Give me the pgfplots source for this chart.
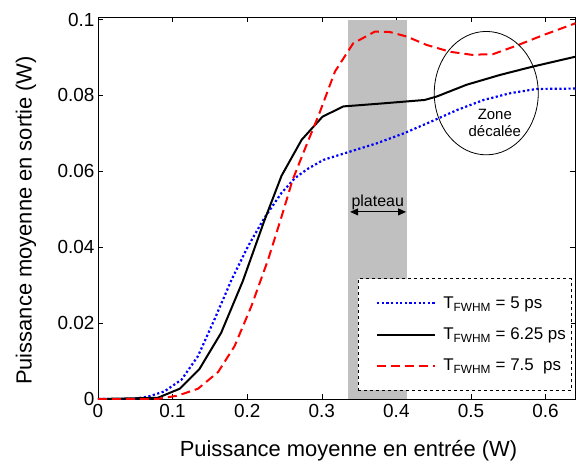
\documentclass[border=0pt]{standalone}
\usepackage{fontspec}
\setmainfont{Liberation Sans}
\usepackage{pgfplots}
\pgfplotsset{compat=1.18}
\usetikzlibrary{arrows.meta}
\definecolor{bandgray}{RGB}{192,192,192}
\begin{document}
\begin{tikzpicture}
\begin{axis}[
  scale only axis,
  width=477.4bp, height=381.5bp,
  xmin=0, xmax=0.64, ymin=0, ymax=0.10053,
  xtick={0,0.1,...,0.6}, ytick={0,0.02,...,0.1},
  xticklabels={0,0.1,0.2,0.3,0.4,0.5,0.6},
  yticklabels={0,0.02,0.04,0.06,0.08,0.1},
  tick align=inside,
  major tick length=5bp,
  tick style={black, line width=0.5bp},
  axis line style={black, line width=0.8bp},
  ticklabel style={font=\fontsize{19}{22}\selectfont},
  xticklabel style={yshift=-2bp},
  /pgf/number format/assume math mode=true,
  xlabel={Puissance moyenne en entrée (W)},
  ylabel={Puissance moyenne en sortie (W)},
  label style={font=\fontsize{22}{26}\selectfont},
  xlabel style={at={(axis description cs:0.5247,-0.1515)}, anchor=base},
  ylabel style={at={(axis description cs:-0.1389,0.468)}, anchor=base, rotate=0},
  legend style={at={(axis description cs:0.5446,0.3159)}, anchor=north west,
    draw=black, dashed, line width=0.6bp, fill=white,
    font=\fontsize{17}{20}\selectfont,
    inner xsep=3bp, inner ysep=16bp, row sep=14bp, column sep=0bp},
  legend cell align=left,
  legend image code/.code={\path[draw=none,fill=none] (0bp,0bp) -- (80bp,0bp); \draw[#1] (16bp,0bp) -- (74bp,0bp);},
  clip=true,
]
\fill[bandgray] (axis cs:0.335,0) rectangle (axis cs:0.414,0.1);

\addplot[blue, line width=2.2bp, solid, dash pattern=on 2.2bp off 2.4bp] coordinates {
(0,0) (0.045,0) (0.067,0.0006) (0.089,0.002) (0.112,0.0051) (0.134,0.0113)
(0.156,0.0209) (0.179,0.0314) (0.201,0.0402) (0.223,0.0477) (0.246,0.0543)
(0.264,0.0582) (0.28,0.0605) (0.302,0.0630) (0.338,0.0652) (0.374,0.0674)
(0.41,0.0700) (0.4465,0.0731) (0.482,0.0762) (0.517,0.0788) (0.553,0.0806)
(0.588,0.0817) (0.64,0.0818)
};
\addlegendentry{T\textsubscript{FWHM} = 5 ps}

\addplot[black, solid, line width=2bp] coordinates {
(0,0) (0.08,0.0003) (0.1095,0.0027) (0.136,0.0079) (0.165,0.0174) (0.194,0.031)
(0.223,0.047) (0.246,0.0588) (0.273,0.0683) (0.301,0.0744) (0.329,0.0771)
(0.382,0.0779) (0.438,0.0788) (0.454,0.0797) (0.494,0.0828) (0.539,0.0854)
(0.583,0.0876) (0.64,0.0902)
};
\addlegendentry{T\textsubscript{FWHM} = 6.25 ps}

\addplot[red, solid, line width=2bp, dash pattern=on 9bp off 5bp] coordinates {
(0,0) (0.08,0) (0.107,0.0009) (0.134,0.0027) (0.161,0.0071) (0.183,0.0139)
(0.2055,0.0244) (0.228,0.0367) (0.246,0.048) (0.261,0.0578) (0.277,0.0657)
(0.2976,0.0757) (0.3177,0.0863) (0.342,0.0937) (0.371,0.0968) (0.3915,0.0967)
(0.414,0.0955) (0.4406,0.0933) (0.472,0.0915) (0.501,0.0907) (0.530,0.0909)
(0.561,0.0931) (0.597,0.0959) (0.64,0.0990)
};
\addlegendentry{T\textsubscript{FWHM} = 7.5~ ps}

\draw[black, line width=0.8bp] (axis cs:0.5205,0.0806) ellipse [x radius=52bp, y radius=61.7bp];
\node[font=\fontsize{15}{17}\selectfont, align=center] at (axis cs:0.532,0.0727) {Zone\\décalée};
\node[font=\fontsize{16}{18}\selectfont, anchor=base] at (axis cs:0.375,0.0508) {plateau};
\draw[{Triangle[length=8bp,width=7bp]}-{Triangle[length=8bp,width=7bp]}, line width=1bp] (axis cs:0.338,0.0493) -- (axis cs:0.413,0.0493);
\end{axis}
\pgfresetboundingbox
\path (current axis.south west) ++(-98bp,-68.5bp) coordinate (bbsw);
\path (current axis.north west) ++(478bp,17.5bp) coordinate (bbne);
\path[use as bounding box] (bbsw) rectangle (bbne);
\end{tikzpicture}
\end{document}
